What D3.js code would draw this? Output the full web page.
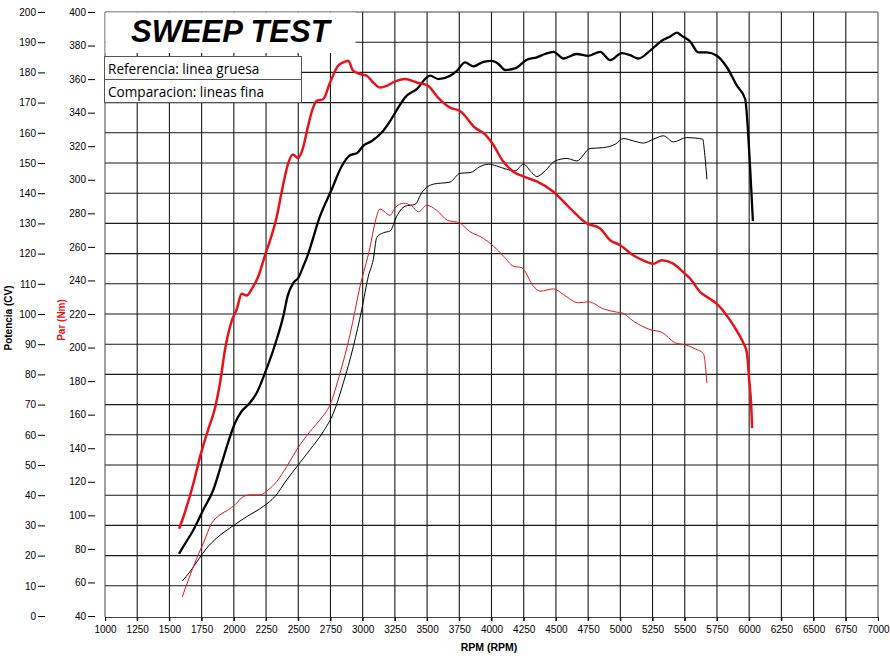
<!DOCTYPE html>
<html>
<head>
<meta charset="utf-8">
<script src="https://cdn.jsdelivr.net/npm/d3@7"></script>
<style>
  body { margin: 0; background: #fff; }
  svg { display: block; }
  .tick text { font-family: "Liberation Sans", Arial, sans-serif; font-size: 10px; fill: #000; }
  .tick line { stroke: #000; }
  .grid line { stroke: #1a1a1a; stroke-width: 1.1; }
</style>
</head>
<body>
<script>
//sweep test - potencia y par vs rpm

//data
//referencia (linea gruesa)
var refPowerRpm = [1575,1608,1686,1763,1841,1906,1971,2009,2061,2113,2178,2242,2320,2384,2418,2462,2501,2540,2566,2669,2760,2838,2902,2954,3005,3071,3148,3213,3277,3329,3420,3523,3588,3679,3731,3795,3860,3937,4002,4054,4106,4183,4274,4352,4416,4481,4558,4662,4752,4843,4921,5012,5076,5141,5231,5322,5387,5439,5478,5543,5606,5672,5749,5827,5905,5969,5990,6008,6029];
var refPower = [20.6,23,28.5,35.2,41.8,50.6,59.5,63.9,67.8,70,73.9,80.5,89.9,99.3,106,110.3,112,115.9,118.6,132.4,141.3,149,152.6,153.2,155.7,157.3,160.1,163.9,168.4,171.7,174.5,178.9,177.8,178.9,180.5,183.3,182,183.5,183.8,182.8,180.8,181.3,184.2,185,186.1,186.8,184.6,186.1,185.5,186.8,184.1,186.4,185.7,184.6,187.2,190.5,191.9,193.2,192.1,190.2,186.6,186.6,185.5,181.7,175.6,171.2,161.2,147.9,130.8];

var refTorqueRpm = [1575,1608,1686,1738,1800,1854,1893,1932,1984,2023,2061,2100,2139,2188,2242,2290,2333,2372,2419,2457,2499,2537,2576,2615,2644,2693,2747,2809,2848,2887,2926,2980,3032,3081,3135,3187,3236,3329,3420,3508,3585,3679,3756,3873,3950,4012,4090,4168,4245,4352,4478,4610,4740,4843,4921,4999,5099,5177,5255,5322,5410,5488,5543,5620,5697,5749,5827,5904,5953,5982,6000,6016,6023];
var refTorque = [92,99,119,135,151,164,179,199,216,223,232,231,235,242,255,266,278,293,309,315,313,319,332,343,347,348,358,368,370,371,365,363,362,358,355,356,358,360,358,356,349,343,341,331,327,321,311,305,302,299,293,283,274,271,264,261,255,252,250,252,250,245,241,233,229,226,219,210,203,197,181,165,152];

//comparacion (lineas fina)
var cmpPowerRpm = [1600,1660,1724,1790,1867,1996,2100,2229,2320,2411,2501,2592,2695,2773,2850,2928,2993,3044,3082,3110,3161,3213,3265,3329,3407,3459,3549,3679,3756,3834,3911,3976,4041,4119,4183,4248,4313,4352,4416,4494,4585,4662,4765,4869,4960,5024,5102,5179,5257,5334,5412,5516,5640,5651,5672];
var cmpPower = [11.6,14.7,18.6,22.5,25.8,29.9,32.9,36.3,39.6,45.1,50.1,55.1,61.1,67.2,77.2,89.3,101.5,112.5,118,125.4,126.9,127.5,132.4,135.7,136.3,140.2,143,143.7,146.6,146.8,148.8,149.6,149,147.9,147.4,149.6,146.8,145.5,147.4,150.7,151.5,150.7,154.8,155.1,156.2,158.1,157.3,156.6,157.9,159,157,158.4,157.9,154.6,144.6];

var cmpTorqueRpm = [1600,1647,1712,1763,1828,1893,1957,2009,2074,2126,2203,2268,2333,2411,2488,2592,2669,2747,2825,2902,2980,3057,3096,3135,3166,3213,3252,3316,3381,3433,3498,3575,3659,3749,3826,3937,4015,4093,4170,4235,4325,4377,4481,4558,4675,4752,4869,4973,5012,5102,5231,5322,5426,5516,5581,5645,5672];
var cmpTorque = [51.5,61.5,74.4,83.4,95.3,100.3,103.3,106.3,111.2,112.2,112.2,115.2,120.2,129.1,139.1,150,157,166,184.9,207.8,236.6,259.7,274.6,282.6,281.2,278.8,283.4,286,284.4,280.9,284.8,281.8,275.8,274.4,269.4,265.1,260.5,254.5,248.5,247.6,236.6,233.6,235,231.6,226.7,227.3,223.1,221.1,220.7,215.7,210.7,209.1,202.8,201.4,199.2,196.4,178.9];

//tick values for the three axes
var rpmTicks = d3.range(1000, 7001, 250);
var powerTicks = d3.range(0, 201, 10);
var torqueTicks = d3.range(40, 401, 20);

var titleText = "SWEEP TEST";
var legendRows = ["Referencia: linea gruesa", "Comparacion: lineas fina"];

var RED = "#e6141a";

window.onload = drawChart();

function drawChart(){
    var width = 890,
        height = 665,
        left = 105, right = 878,
        top = 12, bottom = 617;

    var svg = d3.select("body")
        .append("svg")
        .attr("width", width)
        .attr("height", height);

    //scales - power and torque share the same pixel span
    var x = d3.scaleLinear().domain([1000, 7000]).range([left, right]);
    var yPower = d3.scaleLinear().domain([0, 200]).range([bottom - 1, top]);
    var yTorque = d3.scaleLinear().domain([40, 400]).range([bottom - 1, top]);

    //grid
    var grid = svg.append("g").attr("class", "grid");
    grid.selectAll(".v")
        .data(rpmTicks.slice(1, -1))
        .enter()
        .append("line")
        .attr("class", "v")
        .attr("x1", function(d){ return x(d); })
        .attr("x2", function(d){ return x(d); })
        .attr("y1", top)
        .attr("y2", bottom + 4);
    grid.selectAll(".h")
        .data(powerTicks.slice(1, -1))
        .enter()
        .append("line")
        .attr("class", "h")
        .attr("x1", left)
        .attr("x2", right)
        .attr("y1", function(d){ return yPower(d); })
        .attr("y2", function(d){ return yPower(d); });

    //frame
    svg.append("path")
        .attr("d", "M" + left + "," + bottom + "V" + top + "H" + right + "V" + bottom)
        .attr("fill", "none")
        .attr("stroke", "#444")
        .attr("stroke-width", 1);

    //x axis
    var xAxis = svg.append("g")
        .attr("transform", "translate(0," + bottom + ")")
        .call(d3.axisBottom(x).tickValues(rpmTicks).tickSize(4).tickPadding(5).tickFormat(d3.format("d")));
    xAxis.select(".domain").attr("stroke", "#444");

    svg.append("text")
        .attr("x", 489)
        .attr("y", 651)
        .attr("text-anchor", "middle")
        .style("font-family", "Liberation Sans, Arial, sans-serif")
        .style("font-size", "10.5px")
        .style("font-weight", "bold")
        .text("RPM (RPM)");

    //potencia axis
    var pAxis = svg.append("g")
        .attr("transform", "translate(45,0)")
        .call(d3.axisLeft(yPower).tickValues(powerTicks).tickSize(7).tickPadding(2));
    pAxis.select(".domain").remove();

    //par axis
    var tAxis = svg.append("g")
        .attr("transform", "translate(95,0)")
        .call(d3.axisLeft(yTorque).tickValues(torqueTicks).tickSize(7).tickPadding(2));
    tAxis.select(".domain").remove();

    svg.append("text")
        .attr("transform", "translate(12,318) rotate(-90)")
        .attr("text-anchor", "middle")
        .style("font-family", "Liberation Sans, Arial, sans-serif")
        .style("font-size", "10px")
        .style("font-weight", "bold")
        .text("Potencia (CV)");

    svg.append("text")
        .attr("transform", "translate(65,320) rotate(-90)")
        .attr("text-anchor", "middle")
        .style("font-family", "Liberation Sans, Arial, sans-serif")
        .style("font-size", "10px")
        .style("font-weight", "bold")
        .style("fill", RED)
        .text("Par (Nm)");

    //curves
    function curve(rpm, vals, yScale, color, w){
        var pts = rpm.map(function(r, i){ return [r, vals[i]]; });
        var line = d3.line()
            .x(function(d){ return x(d[0]); })
            .y(function(d){ return yScale(d[1]); })
            .curve(d3.curveMonotoneX);
        svg.append("path")
            .datum(pts)
            .attr("d", line)
            .attr("fill", "none")
            .attr("stroke", color)
            .attr("stroke-width", w)
            .attr("stroke-linejoin", "round");
    };
    curve(cmpPowerRpm, cmpPower, yPower, "#000", 1);
    curve(cmpTorqueRpm, cmpTorque, yTorque, RED, 1);
    curve(refPowerRpm, refPower, yPower, "#000", 2.3);
    curve(refTorqueRpm, refTorque, yTorque, RED, 2.5);

    //title box covers the grid
    svg.append("rect")
        .attr("x", left + 0.5)
        .attr("y", top + 0.5)
        .attr("width", 355 - left)
        .attr("height", 53 - top - 0.5)
        .attr("fill", "#fff");
    svg.append("text")
        .attr("x", 131)
        .attr("y", 42)
        .style("font-family", "Liberation Sans, Arial, sans-serif")
        .style("font-size", "31px")
        .style("font-weight", "bold")
        .style("font-style", "italic")
        .text(titleText);

    //legend
    var leg = svg.append("g");
    leg.append("rect")
        .attr("x", 104.5)
        .attr("y", 56.5)
        .attr("width", 197)
        .attr("height", 46)
        .attr("fill", "#fff")
        .attr("stroke", "#555");
    leg.append("line")
        .attr("x1", 104.5).attr("x2", 301.5)
        .attr("y1", 79.5).attr("y2", 79.5)
        .attr("stroke", "#555");
    leg.selectAll(".legText")
        .data(legendRows)
        .enter()
        .append("text")
        .attr("class", "legText")
        .attr("x", 108)
        .attr("y", function(d, i){ return 74 + i * 23; })
        .style("font-family", "Open Sans, sans-serif")
        .style("font-size", "13.6px")
        .text(function(d){ return d; });
};
</script>
</body>
</html>
